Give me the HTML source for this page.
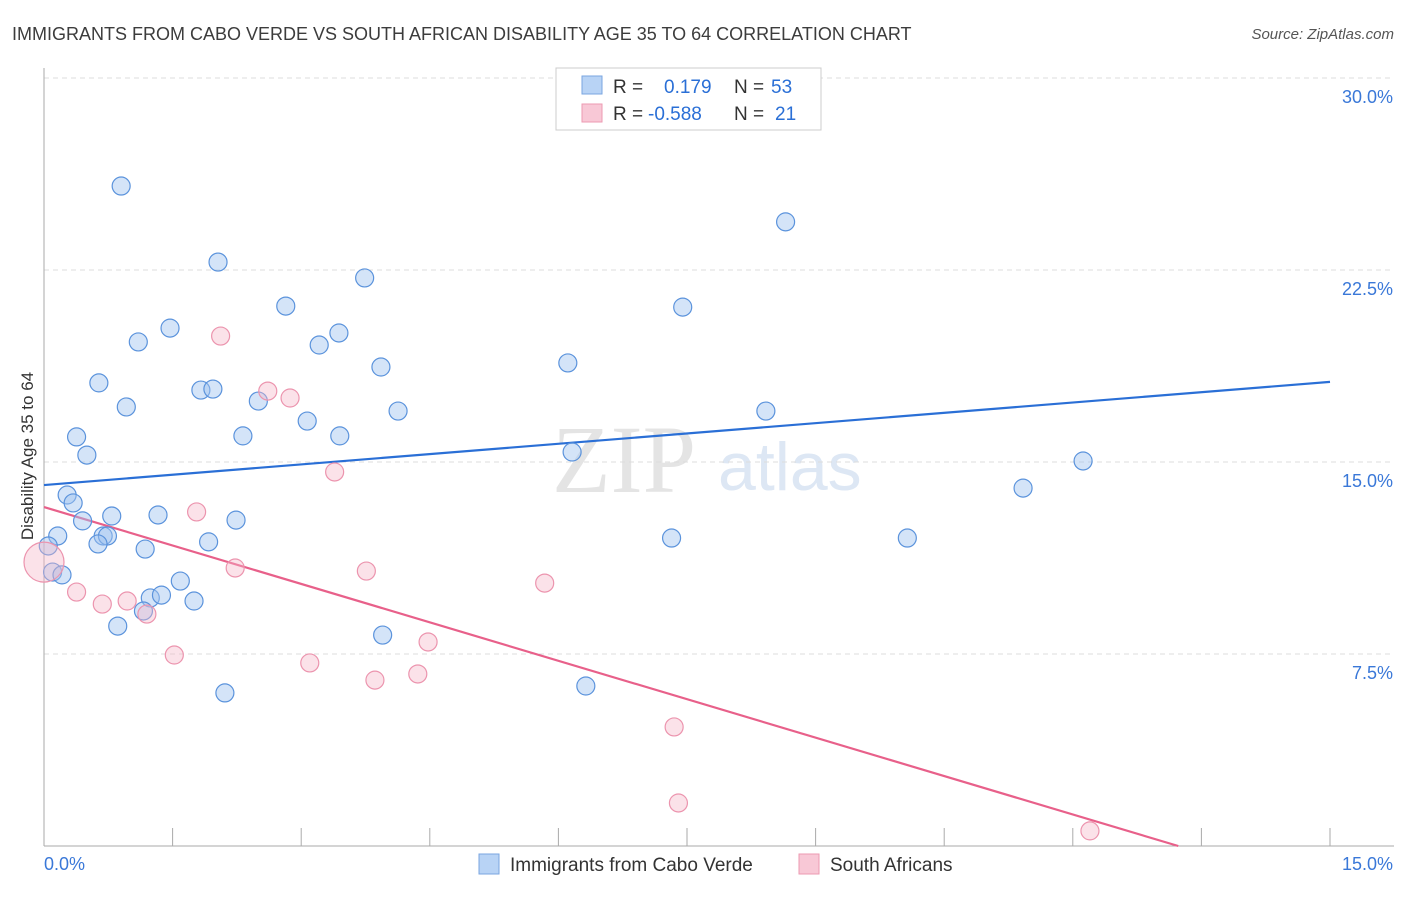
<!DOCTYPE html>
<html><head><meta charset="utf-8"><style>
body{margin:0;background:#fff;font-family:"Liberation Sans",sans-serif}
</style></head><body>
<svg width="1406" height="892" viewBox="0 0 1406 892" xmlns="http://www.w3.org/2000/svg" font-family="Liberation Sans, sans-serif">
<text x="12" y="40" font-size="18" fill="#3c3c3c">IMMIGRANTS FROM CABO VERDE VS SOUTH AFRICAN DISABILITY AGE 35 TO 64 CORRELATION CHART</text>
<text x="1394" y="39" font-size="15" fill="#555" text-anchor="end" font-style="italic">Source: ZipAtlas.com</text>
<text x="552" y="492" font-size="96" fill="#e4e4e4" font-family="Liberation Serif, serif">ZIP</text>
<text x="718" y="490" font-size="68" fill="#dde7f4">atlas</text>
<g id="grid"></g>
<g id="axes"></g>
<text transform="translate(33,456) rotate(-90)" font-size="17" fill="#333" text-anchor="middle">Disability Age 35 to 64</text>
<g id="trend"></g>
<g id="pts"></g>
<g>
<rect x="556" y="68" width="265" height="62" fill="#fff" stroke="#ccc"/>
<rect x="582" y="76" width="20" height="18" fill="#b8d3f5" stroke="#7aa6e0"/>
<rect x="582" y="104" width="20" height="18" fill="#f8c8d6" stroke="#ec9ab2"/>
<text x="613" y="93" font-size="19" fill="#333">R = </text><text x="664" y="93" font-size="19" fill="#2a6fd6">0.179</text>
<text x="734" y="93" font-size="19" fill="#333">N = </text><text x="771" y="93" font-size="19" fill="#2a6fd6">53</text>
<text x="613" y="120" font-size="19" fill="#333">R = </text><text x="648" y="120" font-size="19" fill="#2a6fd6">-0.588</text>
<text x="734" y="120" font-size="19" fill="#333">N = </text><text x="775" y="120" font-size="19" fill="#2a6fd6">21</text>
</g>
<g>
<rect x="479" y="854" width="20" height="20" fill="#b8d3f5" stroke="#7aa6e0"/>
<text x="510" y="871" font-size="19" fill="#333">Immigrants from Cabo Verde</text>
<rect x="799" y="854" width="20" height="20" fill="#f8c8d6" stroke="#ec9ab2"/>
<text x="830" y="871" font-size="19" fill="#333">South Africans</text>
</g>
</svg>
<script>
const blueX=[0.90,2.03,8.65,3.74,2.82,7.45,1.47,1.10,3.44,3.21,6.11,3.93,0.64,1.83,1.97,2.50,0.96,4.13,8.42,3.07,0.38,2.32,3.45,0.50,6.16,12.12,11.42,0.27,0.34,0.45,0.79,1.33,2.24,0.16,0.69,0.74,0.63,0.05,1.18,1.92,7.32,10.07,0.10,0.21,1.59,1.24,1.37,1.75,1.16,0.86,3.95,2.11,6.32];
const blueY=[25.78,22.81,24.38,22.19,21.09,21.05,20.23,19.69,20.04,19.57,18.87,18.71,18.09,17.81,17.85,17.38,17.15,16.99,16.99,16.60,15.98,16.02,16.02,15.27,15.39,15.04,13.98,13.71,13.40,12.70,12.89,12.93,12.73,12.11,12.11,12.11,11.80,11.72,11.60,11.88,12.03,12.03,10.70,10.59,10.35,9.69,9.80,9.57,9.18,8.59,8.24,5.98,6.25];
const pinkX=[0,2.06,2.61,2.87,3.39,1.78,2.23,3.76,5.84,0.38,0.68,0.97,1.20,1.52,3.10,3.86,4.36,4.48,7.35,7.40,12.20];
const pinkY=[11.09,19.92,17.77,17.50,14.61,13.05,10.86,10.74,10.27,9.92,9.45,9.57,9.06,7.46,7.15,6.48,6.72,7.97,4.65,1.68,0.59];
const pinkR=[20,9,9,9,9,9,9,9,9,9,9,9,9,9,9,9,9,9,9,9,9];
const blueTrend=[[0,14.10],[15,18.13]];
const pinkTrend=[[0,13.24],[13.23,0]];
const yTicks=[7.5,15,22.5,30];
const yTickLabels=["7.5%","15.0%","22.5%","30.0%"];
const NS="http://www.w3.org/2000/svg";
const sx=v=>44+v/15*1286, sy=v=>846-v/30*768;
function mk(t,a,p){const e=document.createElementNS(NS,t);for(const k in a)e.setAttribute(k,a[k]);p.appendChild(e);return e;}
const grid=document.getElementById('grid'),axes=document.getElementById('axes'),trend=document.getElementById('trend'),pts=document.getElementById('pts');
yTicks.forEach((v,i)=>{
 const l=mk('line',{x1:44,x2:1394,y1:sy(v),y2:sy(v),stroke:'#ddd','stroke-dasharray':'5,4'},grid);
 
 
 const t=mk('text',{x:1393,y:sy(v)+25,'font-size':18,fill:'#3a78d8','text-anchor':'end'},grid);
 t.textContent=yTickLabels[i];
 
 
});
const ya=mk('line',{x1:44,x2:44,y1:68,y2:846,stroke:'#aaa'},axes);


const xa=mk('line',{x1:44,x2:1394,y1:846,y2:846,stroke:'#aaa'},axes);


for(let i=0;i<=10;i++){
 const tk=mk('line',{x1:sx(i*1.5),x2:sx(i*1.5),y1:828,y2:846,stroke:'#aaa'},axes);
 
 
}
const x0=mk('text',{x:44,y:870,'font-size':18,fill:'#3a78d8'},axes);x0.textContent='0.0%';


const x1=mk('text',{x:1393,y:870,'font-size':18,fill:'#3a78d8','text-anchor':'end'},axes);x1.textContent='15.0%';


blueX.forEach((x,i)=>{
 const c=mk('circle',{cx:sx(x),cy:sy(blueY[i]),r:9,fill:'rgba(160,196,240,0.45)',stroke:'#5b93dc','stroke-width':1.2},pts);
 
 
});
pinkX.forEach((x,i)=>{
 const c=mk('circle',{cx:sx(x),cy:sy(pinkY[i]),r:pinkR[i],fill:'rgba(246,182,200,0.4)',stroke:'#ec94ae','stroke-width':1.2},pts);
 
 
});
const bt=mk('line',{x1:sx(blueTrend[0][0]),y1:sy(blueTrend[0][1]),x2:sx(blueTrend[1][0]),y2:sy(blueTrend[1][1]),stroke:'#2a6fd6','stroke-width':2.2},trend);


const pt=mk('line',{x1:sx(pinkTrend[0][0]),y1:sy(pinkTrend[0][1]),x2:sx(pinkTrend[1][0]),y2:sy(pinkTrend[1][1]),stroke:'#e8608a','stroke-width':2.2},trend);


</script>
</body></html>
